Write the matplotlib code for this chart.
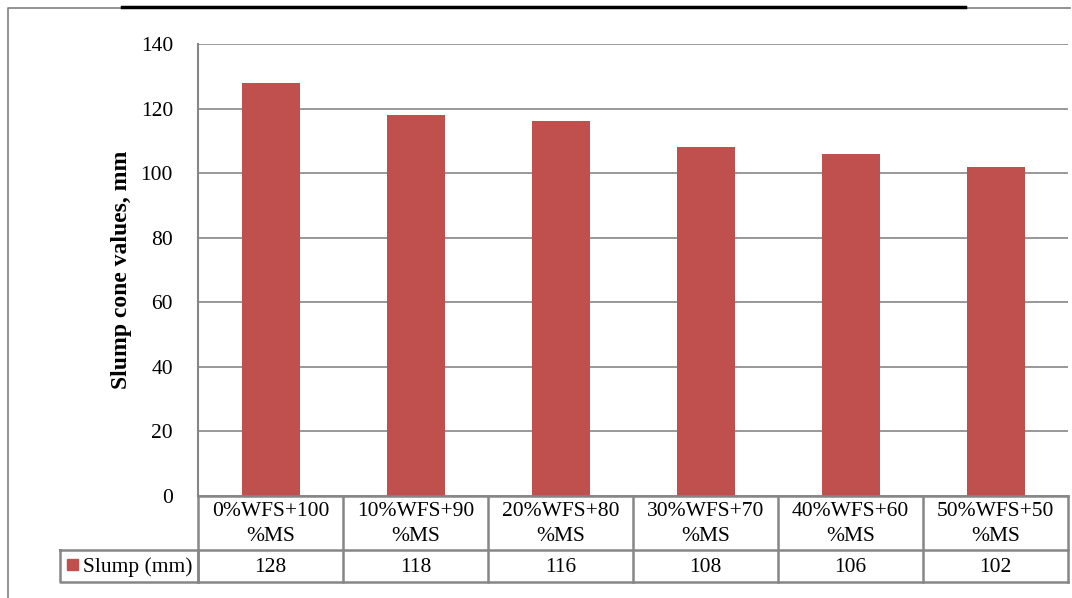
import matplotlib
matplotlib.use("Agg")
import matplotlib.pyplot as plt
from matplotlib.transforms import blended_transform_factory, Affine2D
from matplotlib.patches import Rectangle
from matplotlib.lines import Line2D

categories = ["0%WFS+100\n%MS", "10%WFS+90\n%MS", "20%WFS+80\n%MS",
              "30%WFS+70\n%MS", "40%WFS+60\n%MS", "50%WFS+50\n%MS"]
values = [128, 118, 116, 108, 106, 102]
series_name = "Slump (mm)"
yticks = [0, 20, 40, 60, 80, 100, 120, 140]
ylabel = "Slump cone values, mm"

W, H = 1072, 598
FS = 15.5
plt.rcParams['font.family'] = ['Liberation Serif', 'DejaVu Serif']
fig = plt.figure(figsize=(W / 100, H / 100), dpi=100)

def px(x0, y0, x1, y1):
    return [x0 / W, 1 - y1 / H, (x1 - x0) / W, (y1 - y0) / H]

ax = fig.add_axes(px(198, 44, 1068, 496))
bar_color = "#C0504D"
grid_color = "#868686"
n = len(categories)
xs = list(range(n))
ax.bar(xs, values, width=0.4, color=bar_color, zorder=3)
ax.set_xlim(-0.5, n - 0.5)
ax.set_ylim(0, 140)
ax.set_yticks(yticks)
ax.set_yticklabels([str(t) for t in yticks], fontsize=FS)
ax.tick_params(axis='y', length=0, pad=18)
ax.set_xticks([])
ax.yaxis.grid(True, color=grid_color, linewidth=1.2, zorder=0)
for s in ["top", "right", "bottom"]:
    ax.spines[s].set_visible(False)
ax.spines["left"].set_color(grid_color)
ax.spines["left"].set_linewidth(1.5)
ax.set_ylabel(ylabel, fontsize=17, fontweight="bold", labelpad=6)

pix = Affine2D().scale(1 / W, -1 / H).translate(0, 1) + fig.transFigure
bt = blended_transform_factory(ax.transData, pix)

lw = 1.8
row1_top, row1_bot, row2_bot = 496, 550, 582
for y in [row1_top, row1_bot, row2_bot]:
    fig.add_artist(Line2D([198, 1068], [y, y], transform=pix, color=grid_color, lw=lw))
for i in range(n + 1):
    xb = i - 0.5
    fig.add_artist(Line2D([xb, xb], [row1_top, row2_bot], transform=bt, color=grid_color, lw=lw))
fig.add_artist(Line2D([60, 198, 198, 60, 60], [row1_bot, row1_bot, row2_bot, row2_bot, row1_bot],
                      transform=pix, color=grid_color, lw=lw))
fig.add_artist(Rectangle((67, 559), 11, 11, transform=pix, color=bar_color))
fig.text(83 / W, 1 - 567 / H, series_name, fontsize=FS, va="center", ha="left")

for i, (c, v) in enumerate(zip(categories, values)):
    fig.text(i, (row1_top + row1_bot) / 2 + 1, c, transform=bt, fontsize=FS,
             ha="center", va="center", linespacing=1.45)
    fig.text(i, (row1_bot + row2_bot) / 2 + 1, str(v), transform=bt, fontsize=FS,
             ha="center", va="center")

fig.add_artist(Line2D([8, 8, 1070], [598, 8, 8], transform=pix, color="#7f7f7f", lw=1.2))
fig.add_artist(Line2D([122, 965], [7, 7], transform=pix, color="black", lw=2.5))

fig.savefig("out.png", dpi=100)
